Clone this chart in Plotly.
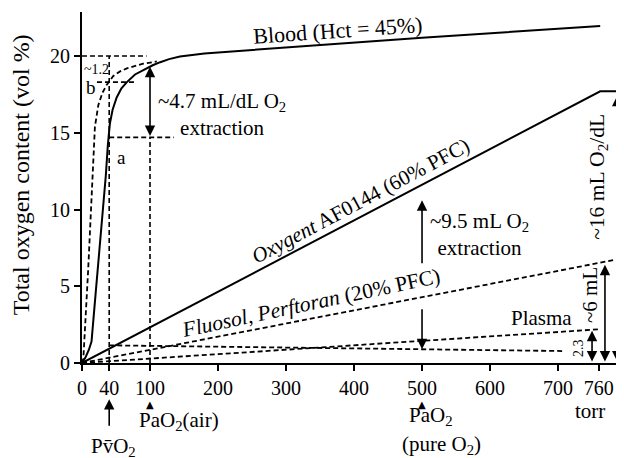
import plotly.graph_objects as go

# ---- data (torr vs vol %) ----
x_ticks = [0, 40, 100, 200, 300, 400, 500, 600, 700, 760]
y_ticks = [0, 5, 10, 15, 20]

blood_po2 = [0, 5, 10, 14, 20, 27, 35, 38, 41, 45, 51, 58, 66, 78, 90, 104, 115, 128, 144, 160, 180, 500, 762]
blood_o2 = [0, 0.35, 0.85, 1.4, 4.5, 7.9, 12.2, 14.2, 15.6, 16.5, 17.3, 17.9, 18.3, 18.8, 19.1, 19.4, 19.6, 19.8, 19.97, 20.08, 20.17, 21.2, 21.95]

shifted_po2 = [0, 2, 9, 16, 19, 24, 30, 36, 40, 46, 56, 66, 90, 110]
shifted_o2 = [0, 0.3, 6.0, 12.3, 15.4, 16.8, 17.6, 18.1, 18.35, 18.7, 19.0, 19.2, 19.5, 19.65]

oxygent_po2 = [0, 762, 787]
oxygent_o2 = [0, 17.7, 17.7]

fluosol_po2 = [0, 787]
fluosol_o2 = [0, 6.75]

plasma_po2 = [0, 762]
plasma_o2 = [0, 2.2]

venous_pfc_po2 = [40, 706]
venous_pfc_o2 = [1.15, 0.78]

# dashed guide lines
guide_top_x, guide_top_y = [0, 95], [20, 20]
guide_v40_x, guide_v40_y = [40, 40], [0, 20]
guide_b_x, guide_b_y = [22, 80], [18.3, 18.3]
guide_a_x, guide_a_y = [40, 135], [14.7, 14.7]
guide_v100_x, guide_v100_y = [100, 100], [0, 14.7]

# arrows: (x, from, to)
extraction_blood = (100, 14.7, 19.3)
extraction_pfc_up = (500, 6.4, 10.6)
extraction_pfc_down = (500, 3.6, 0.9)
plasma_arrow = (750, 0, 2.1)
fluosol_arrow = (769, 0, 6.4)
oxygent_arrow = (787, 0, 17.4)

pao2_marks = [100, 500]
pvo2 = 40

FONT = "Liberation Serif"
DASH = "5px,3px"

fig = go.Figure()


def line(x, y, dash=None, width=1.8):
    fig.add_trace(go.Scatter(
        x=x, y=y, mode="lines",
        line=dict(color="black", width=width, dash=dash),
        hoverinfo="skip", showlegend=False,
    ))


line(blood_po2, blood_o2, width=2)
line(shifted_po2, shifted_o2, dash=DASH)
line(oxygent_po2, oxygent_o2, width=2)
line(fluosol_po2, fluosol_o2, dash=DASH)
line(plasma_po2, plasma_o2, dash=DASH)
line(venous_pfc_po2, venous_pfc_o2, dash=DASH)
for gx, gy in [(guide_top_x, guide_top_y), (guide_v40_x, guide_v40_y),
               (guide_b_x, guide_b_y), (guide_a_x, guide_a_y),
               (guide_v100_x, guide_v100_y)]:
    line(gx, gy, dash=DASH, width=1.6)

annotations = []


def arrow(x, y0, y1, both=False):
    annotations.append(dict(
        x=x, y=y1, ax=x, ay=y0, xref="x", yref="y", axref="x", ayref="y",
        text="", showarrow=True, arrowhead=2, arrowsize=1.3, arrowwidth=1.6,
        arrowcolor="black", arrowside="end+start" if both else "end",
        startarrowhead=2, startarrowsize=1.3,
    ))


arrow(*extraction_blood, both=True)
arrow(*extraction_pfc_up)
arrow(*extraction_pfc_down)
arrow(*plasma_arrow, both=True)
arrow(*fluosol_arrow, both=True)
arrow(*oxygent_arrow, both=True)

# PvO2 arrow below the axis (tip in paper units, tail 28 px lower)
annotations.append(dict(
    x=pvo2, y=-0.103, xref="x", yref="paper", ax=0, ay=28,
    text="", showarrow=True, arrowhead=2, arrowsize=1.3, arrowwidth=1.6,
    arrowcolor="black",
))
# small triangles marking PaO2
for m in pao2_marks:
    annotations.append(dict(
        x=m, y=-0.117, xref="x", yref="paper", text="\u25b2", showarrow=False,
        xanchor="center", yanchor="middle",
        font=dict(family="DejaVu Sans", size=10, color="black"),
    ))


def label(text, x, y, size=21, angle=0, yref="y", xref="x"):
    annotations.append(dict(
        text=text, x=x, y=y, xref=xref, yref=yref,
        showarrow=False, textangle=angle,
        xanchor="center", yanchor="middle",
        font=dict(family=FONT, size=size, color="black"),
    ))


label("Blood (Hct = 45%)", 375, 21.69, size=22, angle=-4)
label("<i>Oxygent</i> AF0144 (60% PFC)", 409, 10.55, angle=-28)
label("<i>Fluosol, Perftoran</i> (20% PFC)", 337, 3.9, size=21.5, angle=-12)
label("Plasma", 676, 2.93)
label("~1.2", 22, 19.15, size=14)
label("b", 13.2, 17.98, size=19)
label("a", 58.8, 13.36, size=19)
label("~4.7 mL/dL O<sub>2</sub><br>extraction", 206, 16.22)
label("~9.5 mL O<sub>2</sub><br>extraction", 585, 8.4)
label("2.3", 731, 0.98, size=14, angle=-90)
label("~6 mL", 747, 4.43, angle=-90)
label("~16 mL O<sub>2</sub>/dL", 760, 12.12, size=21.5, angle=-90)
label("PaO<sub>2</sub>(air)", 143, -0.165, yref="paper")
label("Pv\u0304O<sub>2</sub>", 47, -0.239, yref="paper")
label("PaO<sub>2</sub>", 513, -0.151, yref="paper")
label("(pure O<sub>2</sub>)", 528, -0.234, yref="paper")
label("torr", 747, -0.137, yref="paper")
label("Total oxygen content (vol %)", -0.112, 0.5356, size=24, angle=-90,
      xref="paper", yref="paper")

axis_style = dict(
    showline=True, linecolor="black", linewidth=2,
    ticks="outside", ticklen=6, tickwidth=2, tickcolor="black",
    showgrid=False, zeroline=False,
    tickfont=dict(family=FONT, size=20, color="black"),
)

fig.update_xaxes(range=[0, 797], tickvals=x_ticks, **axis_style)
fig.update_yaxes(range=[0, 22.87], tickvals=y_ticks, **axis_style)

# the page body adds an 8px offset, so the figure is 8px smaller
fig.update_layout(
    width=616, height=450,
    margin=dict(l=74, r=0, t=4, b=95),
    plot_bgcolor="white", paper_bgcolor="white",
    font=dict(family=FONT, color="black"),
    annotations=annotations,
    showlegend=False,
)

fig.write_html("out.html")
